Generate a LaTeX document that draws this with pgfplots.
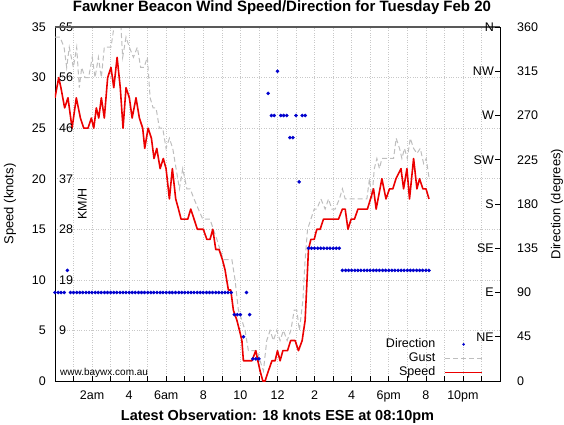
\documentclass[border=0pt]{standalone}
\usepackage{pgfplots}
\usepackage{pgfplotstable}
\pgfplotsset{compat=1.18}
\usepackage{fontspec}
\setmainfont{Liberation Sans}
\definecolor{spd}{RGB}{235,0,0}
\definecolor{gst}{RGB}{190,190,190}
\definecolor{dirc}{RGB}{0,0,205}
\definecolor{grd}{RGB}{200,200,200}

\pgfplotstableread{
h k
0.00 28
0.20 30
0.32 29
0.52 27
0.70 28
0.92 25
1.15 28
1.37 26
1.55 25
1.78 25
1.96 26
2.09 25
2.23 27
2.36 26
2.50 28
2.66 26
2.84 30
3.02 31
3.17 29
3.35 32
3.52 29
3.67 25
3.83 29
4.01 28
4.16 26
4.37 28
4.55 26
4.73 25
4.84 23
5.02 25
5.20 24
5.34 22
5.49 23
5.67 21
5.84 22
5.99 21
6.17 18
6.33 21
6.51 18
6.66 17
6.80 16
7.16 16
7.32 17
7.50 16
7.68 15
8.00 15
8.19 14
8.36 14
8.51 15
8.67 13
8.85 13
9.03 12
9.17 11
9.35 9
9.48 9
9.62 7
9.81 6
9.95 5
10.08 4
10.16 2
10.62 2
10.83 3
10.94 2
11.06 1
11.21 0
11.33 0
11.51 1
11.70 2
11.87 2
12.00 3
12.14 2
12.29 3
12.54 3
12.71 4
12.95 4
13.13 3
13.33 4
13.49 6
13.67 13
13.80 14
13.98 14
14.12 15
14.30 15
14.48 16
15.29 16
15.50 17
15.65 17
15.80 15
15.97 16
16.15 16
16.34 17
16.85 17
17.18 19
17.32 17
17.63 20
17.85 18
18.04 19
18.22 19
18.39 20
18.66 21
18.80 19
18.98 21
19.12 18
19.34 22
19.52 19
19.66 20
19.84 19
20.01 19
20.17 18
}\speedtab

\pgfplotstableread{
h g
0.00 34
0.27 34
0.49 33
0.63 31
0.77 33
0.99 31
1.17 33
1.31 29
1.44 31
1.62 30
1.81 30
2.01 32
2.16 30
2.34 32
2.50 30
2.66 33
2.86 33
3.02 33
3.18 35
3.36 36.5
3.51 36.5
3.65 32
3.83 34
4.01 33
4.23 32
4.44 33
4.62 31
4.80 31
4.98 32
5.13 28
5.29 27
5.45 27
5.63 25
5.81 25
5.99 23
6.17 24
6.35 23
6.53 21
6.71 19
6.89 21
7.11 19
7.29 19
7.50 18
7.73 17
7.97 16
8.18 16
8.36 16
8.54 15
8.73 14
8.90 13
9.08 12
9.26 12
9.54 12
9.71 10
9.89 7
10.08 6
10.25 5
10.43 3
10.62 3
10.74 3
10.90 3
11.06 2
11.24 1
11.42 4
11.60 5
11.78 4
11.96 5
12.14 4
12.32 5
12.52 4
12.72 5
12.90 7
13.04 7
13.18 5
13.37 8
13.49 12
13.62 15
13.80 16
13.98 17
14.12 17
14.34 18
14.57 17
14.75 18
14.93 17
15.11 17
15.34 18
15.50 19
15.65 18
15.83 18
16.01 18
16.19 18
16.37 18
16.82 18
16.96 20
17.09 18
17.22 21
17.36 22
17.50 21
17.63 22
17.81 22
18.04 22
18.26 22
18.40 24
18.58 23
18.71 22
18.85 23
19.00 22
19.16 24
19.34 23
19.52 22.5
19.70 23
19.88 21.5
20.02 22
20.18 20
}\gusttab

\pgfplotstableread{
h d
0.00 90
0.17 90
0.33 90
0.50 90
0.67 112.5
0.83 90
1.00 90
1.17 90
1.33 90
1.50 90
1.67 90
1.83 90
2.00 90
2.17 90
2.33 90
2.50 90
2.67 90
2.83 90
3.00 90
3.17 90
3.33 90
3.50 90
3.67 90
3.83 90
4.00 90
4.17 90
4.33 90
4.50 90
4.67 90
4.83 90
5.00 90
5.17 90
5.33 90
5.50 90
5.67 90
5.83 90
6.00 90
6.17 90
6.33 90
6.50 90
6.67 90
6.83 90
7.00 90
7.17 90
7.33 90
7.50 90
7.67 90
7.83 90
8.00 90
8.17 90
8.33 90
8.50 90
8.67 90
8.83 90
9.00 90
9.17 90
9.33 90
9.50 90
9.67 67.5
9.83 67.5
10.00 67.5
10.17 45
10.33 90
10.50 67.5
10.67 22.5
10.83 22.5
11.00 22.5
11.50 292.5
11.67 270
11.83 270
12.00 315
12.17 270
12.33 270
12.50 270
12.67 247.5
12.83 247.5
13.00 270
13.17 202.5
13.33 270
13.50 270
13.67 135
13.83 135
14.00 135
14.17 135
14.33 135
14.50 135
14.67 135
14.83 135
15.00 135
15.17 135
15.33 135
15.50 112.5
15.67 112.5
15.83 112.5
16.00 112.5
16.17 112.5
16.33 112.5
16.50 112.5
16.67 112.5
16.83 112.5
17.00 112.5
17.17 112.5
17.33 112.5
17.50 112.5
17.67 112.5
17.83 112.5
18.00 112.5
18.17 112.5
18.33 112.5
18.50 112.5
18.67 112.5
18.83 112.5
19.00 112.5
19.17 112.5
19.33 112.5
19.50 112.5
19.67 112.5
19.83 112.5
20.00 112.5
20.17 112.5
}\dirtab

\newcommand{\tfont}{\fontsize{12.5}{14}\selectfont}

\begin{document}
\begin{tikzpicture}
\useasboundingbox (-55pt,-43pt) rectangle (509pt,381pt);
\begin{axis}[
  scale only axis, width=445pt, height=354pt,
  xmin=0, xmax=24, ymin=0, ymax=35,
  xtick={0,...,24},
  xticklabels={,,2am,,4,,6am,,8,,10,,12,,2,,4,,6pm,,8,,10pm,,},
  ytick={0,5,...,35},
  xtick pos=bottom, ytick pos=left,
  tick align=inside, major tick length=5pt,
  ytick style={draw=none},
  grid=major, grid style={grd, dotted, line width=0.6pt},
  axis line style={black, line width=0.9pt},
  xtick style={black, line width=0.6pt},
  xticklabel style={font=\tfont, anchor=base, yshift=-18pt, inner sep=0pt},
  yticklabel style={font=\tfont, anchor=east, xshift=-9pt, inner sep=0pt},
  /pgf/number format/assume math mode=true,
  clip mode=individual,
]
\addplot[gst, line width=1pt, dash pattern=on 5pt off 3pt] table[x=h,y=g] {\gusttab};
\addplot[spd, line width=1.6pt, line join=round] table[x=h,y=k] {\speedtab};
\foreach \v/\t in {5/9,10/19,15/28,20/37,25/46,30/56,35/65}{
  \edef\tmp{\noexpand\node[anchor=west, inner sep=0pt, xshift=4pt, font=\noexpand\tfont] at (axis cs:0,\v) {\t};}
  \tmp
}
\node[rotate=90, font=\tfont] at (axis cs:1.46,17.5) {KM/H};
\node[anchor=base west, inner sep=0pt, font=\fontsize{10}{12}\selectfont] at (axis cs:0.27,0.5) {www.baywx.com.au};
\draw[black!65, line width=1.6pt] (rel axis cs:0,1) -- (rel axis cs:1,1);
\end{axis}
\begin{axis}[
  scale only axis, width=445pt, height=354pt,
  xmin=0, xmax=24, ymin=0, ymax=360,
  axis x line=none, axis y line*=right,
  ytick={0,45,...,360},
  tick align=inside, major tick length=5pt,
  axis line style={black, line width=0.9pt},
  tick style={black, line width=0.6pt},
  yticklabel style={font=\tfont, anchor=west, xshift=17pt, inner sep=0pt},
  /pgf/number format/assume math mode=true,
  clip mode=individual,
  legend image code/.code={\draw[#1] (0cm,0cm) -- (1.3cm,0cm);},
  legend cell align=right,
  legend plot pos=right,
  legend style={draw=none, fill=none, at={(0.962,0.004)}, anchor=south east,
    font=\tfont, inner sep=0pt, row sep=0pt,
    nodes={inner sep=1pt, text height=9pt, text depth=3pt},
    /tikz/every odd column/.append style={column sep=8pt}},
]
\addplot[only marks, mark=*, mark size=1.6pt, mark options={draw=dirc, fill=dirc},
  legend image code/.code={\fill[dirc] (0.65cm,0cm) circle (1.1pt);}]
  table[x=h,y=d] {\dirtab};
\addlegendentry{Direction}
\addlegendimage{gst, line width=1pt, dash pattern=on 5pt off 3pt}
\addlegendentry{Gust}
\addlegendimage{spd, line width=1.6pt}
\addlegendentry{Speed}
\foreach \v/\t in {45/NE,90/E,135/SE,180/S,225/SW,270/W,315/NW,360/N}{
  \edef\tmp{\noexpand\node[anchor=east, inner sep=0pt, xshift=-6pt, font=\noexpand\tfont] at (axis cs:24,\v) {\t};}
  \tmp
}
\end{axis}
\node[rotate=90, font=\fontsize{13}{15}\selectfont] at (-45pt,177pt) {Speed (knots)};
\node[rotate=90, font=\fontsize{13}{15}\selectfont] at (502pt,177pt) {Direction (degrees)};
\node[anchor=base, font=\bfseries\fontsize{15}{17}\selectfont] at (227pt,369.5pt) {Fawkner Beacon Wind Speed/Direction for Tuesday Feb 20};
\node[anchor=base, font=\bfseries\fontsize{14.5}{17}\selectfont] at (222.5pt,-39.5pt) {Latest Observation: 18 knots ESE at 08:10pm};
\end{tikzpicture}
\end{document}
